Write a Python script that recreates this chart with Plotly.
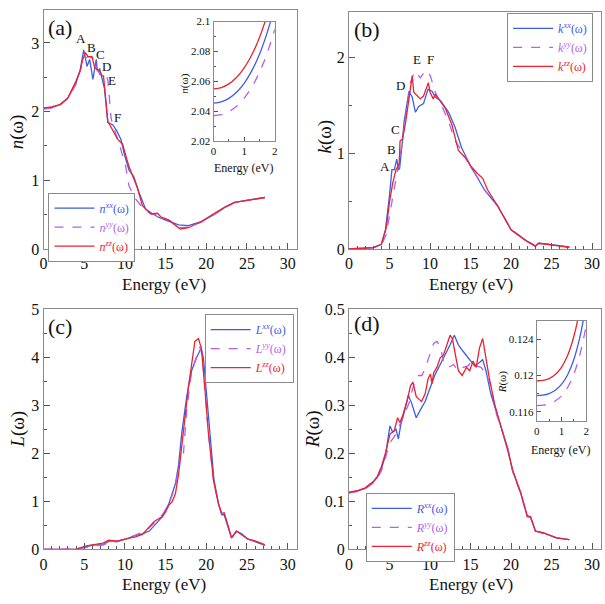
import plotly.graph_objects as go

# ---------------- data ----------------
# (a) refractive index n(w)
E_a_xx = [0,1,2,3,4,4.5,4.94,5.35,5.67,6.07,6.48,6.6,6.9,7.5,7.9,8.5,9.0,9.5,10.0,10.5,11.1,11.75,12.55,13.4,14.0,15.0,16.0,16.6,17.8,19.4,21.1,22.3,23.5,24.7,26.0,27.2]
n_xx = [2.045,2.06,2.1,2.2,2.42,2.6,2.9,2.66,2.76,2.47,2.76,2.59,2.62,2.33,1.84,1.81,1.72,1.6,1.35,1.15,1.05,0.82,0.58,0.51,0.47,0.42,0.38,0.35,0.34,0.40,0.51,0.61,0.68,0.70,0.73,0.75]
E_a_yy = [0,1,2,3,4,4.5,5.0,5.5,6.08,6.9,7.5,7.9,8.3,8.5,9.3,10.1,10.5,11.3,11.95,12.5,13.3,14.0,15.0,16.0,16.8,17.8,19.4,21.0,22.3,23.5,24.7,26.0,27.2]
n_yy = [2.037,2.05,2.09,2.19,2.4,2.58,2.78,2.8,2.78,2.54,2.56,2.47,1.91,1.81,1.53,1.2,0.92,0.73,0.63,0.56,0.51,0.5,0.44,0.38,0.31,0.32,0.39,0.51,0.6,0.68,0.70,0.73,0.75]
E_a_zz = [0,1,2,3,4,4.5,4.8,5.14,5.47,5.95,6.28,6.9,7.2,7.37,7.9,8.5,9.1,9.7,10.0,10.5,11.0,11.5,12.15,13.2,14.0,14.4,15.4,16.4,16.8,17.8,19.4,21.0,22.3,23.5,24.7,26.0,27.2]
n_zz = [2.055,2.07,2.1,2.2,2.45,2.6,2.75,2.86,2.8,2.8,2.64,2.59,2.52,2.52,1.86,1.72,1.6,1.53,1.4,1.2,1.05,0.9,0.63,0.51,0.52,0.47,0.42,0.33,0.29,0.31,0.40,0.52,0.61,0.68,0.70,0.73,0.75]

# inset (a)
E_in = [0,0.25,0.5,0.75,1.0,1.25,1.5,1.75,2.0]
n_in_xx = [2.0455,2.0463,2.0486,2.0527,2.0587,2.0672,2.0782,2.0926,2.1108]
n_in_yy = [2.0370,2.0377,2.0398,2.0434,2.0488,2.0563,2.0661,2.0789,2.0950]
n_in_zz = [2.0550,2.0558,2.0583,2.0626,2.0690,2.0778,2.0894,2.1045,2.1237]

# (b) extinction coefficient k(w)
E_b_xx = [0,2,3,4,4.5,5.0,5.3,5.6,5.9,6.1,6.25,6.6,6.8,7.2,7.4,7.8,8.2,8.6,9.2,9.75,10.25,10.65,11.3,12.3,13.1,13.9,14.7,15.1,15.9,16.7,18.35,20.0,21.6,22.0,23.0,23.4,24.0,25.0,26.0,27.2]
k_xx = [0,0.005,0.015,0.05,0.2,0.56,0.83,0.83,0.94,0.83,0.84,1.13,1.33,1.54,1.65,1.59,1.43,1.49,1.52,1.67,1.65,1.59,1.55,1.43,1.27,1.06,0.93,0.85,0.74,0.62,0.45,0.2,0.10,0.08,0.03,0.06,0.055,0.04,0.035,0.015]
E_b_yy = [0,2,3,4,4.6,5.0,5.4,6.0,6.2,6.6,7.0,7.6,8.1,8.4,8.8,9.2,9.6,10.05,10.65,11.45,12.3,13.1,13.9,14.7,15.9,16.7,18.35,20.0,21.6,22.0,23.0,23.4,24.0,25.0,26.0,27.2]
k_yy = [0,0.005,0.015,0.04,0.15,0.35,0.56,0.83,0.9,1.13,1.40,1.74,1.86,1.84,1.79,1.84,1.87,1.81,1.64,1.50,1.33,1.13,1.03,0.92,0.74,0.62,0.45,0.21,0.10,0.08,0.03,0.06,0.055,0.04,0.035,0.02]
E_b_zz = [0,2,3,4,4.6,5.0,5.4,5.8,6.2,6.3,6.6,7.0,7.4,7.8,8.0,8.4,8.8,9.2,9.8,10.0,10.4,10.65,11.05,11.9,12.7,13.5,14.3,15.1,15.85,16.5,17.1,18.35,20.0,21.6,22.0,23.0,23.4,24.0,25.0,26.0,27.2]
k_zz = [0,0.005,0.015,0.05,0.22,0.49,0.69,0.83,0.89,1.13,1.15,1.33,1.57,1.81,1.64,1.6,1.57,1.6,1.74,1.64,1.57,1.62,1.57,1.47,1.30,1.03,0.96,0.86,0.79,0.74,0.62,0.45,0.2,0.10,0.08,0.03,0.06,0.055,0.04,0.03,0.02]

# (c) energy loss L(w)
E_c_xx = [0,4,4.86,6.07,7.3,8.1,9.1,10.1,11.1,12.15,13.0,13.8,14.6,15.4,16.2,16.6,17.0,17.6,18.2,18.8,19.36,19.65,20.05,20.45,20.95,21.5,21.9,22.2,22.7,23.1,23.7,24.3,25.1,25.9,27.2]
L_xx = [0,0.005,0.04,0.09,0.10,0.17,0.17,0.21,0.28,0.32,0.38,0.52,0.68,0.95,1.36,1.76,2.44,3.18,3.72,3.99,4.19,3.99,3.18,2.4,1.45,0.95,0.72,0.72,0.45,0.24,0.38,0.33,0.22,0.17,0.08]
E_c_yy = [0,4,5,6,7.3,8.1,9.1,10.1,11.1,12.15,13.0,13.8,14.6,15.4,16.2,16.6,16.9,17.2,17.6,18.2,18.8,19.2,19.5,19.85,20.25,20.9,21.5,21.9,22.2,22.7,23.1,23.7,24.3,25.1,25.9,27.2]
L_yy = [0,0.005,0.03,0.07,0.09,0.14,0.16,0.22,0.28,0.36,0.45,0.58,0.72,0.95,1.3,1.7,2.05,2.0,2.9,3.7,4.0,4.22,4.05,3.35,2.45,1.42,0.95,0.73,0.74,0.46,0.24,0.37,0.32,0.21,0.17,0.09]
E_c_zz = [0,4,5.3,7.3,8.0,9.1,10.1,11.3,12.15,12.96,13.6,14.0,14.6,15.0,15.4,15.8,16.2,16.6,17.0,17.4,17.8,18.2,18.6,19.04,19.4,19.85,20.25,20.9,21.5,21.9,22.2,22.7,23.1,23.7,24.3,25.1,25.9,27.2]
L_zz = [0,0.005,0.07,0.13,0.19,0.17,0.22,0.26,0.31,0.45,0.58,0.62,0.68,0.78,0.92,0.99,1.15,1.56,2.17,2.77,3.38,3.85,4.33,4.39,4.19,3.31,2.44,1.42,0.95,0.75,0.76,0.48,0.24,0.38,0.31,0.21,0.18,0.1]

# (d) reflectivity R(w)
E_d_xx = [0,1,2,3,3.5,4,4.5,5.06,5.4,5.8,6.1,6.4,6.8,7.33,7.74,8.3,8.83,9.4,10.05,10.65,11.26,11.87,12.48,13.0,13.5,14.1,14.7,15.5,16.1,16.5,16.9,17.5,18.35,18.95,19.6,20.2,21.2,22.0,22.4,23.0,24.0,25.6,27.2]
R_xx = [0.118,0.121,0.127,0.14,0.15,0.168,0.195,0.257,0.244,0.25,0.23,0.26,0.284,0.321,0.304,0.274,0.291,0.308,0.338,0.365,0.385,0.405,0.426,0.446,0.426,0.412,0.399,0.382,0.389,0.395,0.372,0.324,0.277,0.244,0.21,0.163,0.116,0.068,0.068,0.038,0.034,0.024,0.02]
E_d_yy = [0,1,2,3,3.5,4,4.5,4.98,5.8,6.4,6.8,7.4,7.8,8.2,8.6,9.0,9.44,9.84,10.45,10.85,11.26,11.66,12.27,12.9,13.5,14.1,14.7,15.1,15.7,16.3,16.9,17.5,18.15,18.95,19.6,20.2,21.2,22.0,22.4,23.0,24.0,25.6,27.2]
R_yy = [0.117,0.12,0.126,0.138,0.148,0.163,0.19,0.22,0.24,0.264,0.277,0.304,0.331,0.355,0.362,0.362,0.379,0.399,0.429,0.433,0.423,0.392,0.379,0.385,0.372,0.379,0.382,0.392,0.382,0.379,0.365,0.341,0.284,0.245,0.21,0.162,0.115,0.068,0.066,0.038,0.034,0.024,0.02]
E_d_zz = [0,1,2,3,3.5,4,4.5,4.78,5.06,5.59,6.0,6.28,6.6,7.2,7.6,7.9,8.3,8.95,9.4,9.76,10.05,10.25,10.45,10.85,11.26,11.66,12.07,12.48,12.76,13.09,13.5,13.97,14.5,14.9,15.3,15.7,16.1,16.5,16.8,17.3,17.95,18.75,19.35,19.6,20.2,21.2,22.0,22.4,23.0,24.0,25.6,27.2]
R_zz = [0.119,0.122,0.128,0.141,0.152,0.172,0.2,0.223,0.24,0.247,0.274,0.264,0.277,0.311,0.341,0.348,0.318,0.308,0.324,0.355,0.365,0.345,0.368,0.379,0.399,0.405,0.426,0.446,0.439,0.405,0.372,0.362,0.379,0.372,0.392,0.379,0.419,0.439,0.405,0.358,0.304,0.257,0.22,0.205,0.165,0.118,0.07,0.068,0.038,0.034,0.024,0.02]

# inset (d)
R_in_xx = [0.1178,0.11785,0.11802,0.11838,0.11902,0.12008,0.12176,0.12427,0.12788]
R_in_yy = [0.1167,0.11674,0.11689,0.1172,0.11776,0.11869,0.12015,0.12235,0.1255]
R_in_zz = [0.1194,0.11946,0.11967,0.12011,0.1209,0.12222,0.12429,0.12739,0.13184]

x_ticks = [0, 5, 10, 15, 20, 25, 30]

# ---------------- style ----------------
W, H = 605, 604
FONT = "Liberation Serif"
BLUE = "#3d5ce8"
PURP = "#b35ff0"
RED = "#ec2230"
LW = 1.3

def px(x):
    return x / W

def py(y):
    return 1 - y / H

fig = go.Figure()

def lbl(sym, sup, col):
    return f'<span style="color:{col}"><i>{sym}</i><sup><i>{sup}</i></sup>(ω)</span>'

def add3(Ex, yx, Ey, yy, Ez, yz, sym, xa, ya, leg, showleg=True, shape="linear"):
    fig.add_trace(go.Scatter(x=Ex, y=yx, mode="lines", line=dict(color=BLUE, width=LW, shape=shape),
                             name=lbl(sym, "xx", BLUE), xaxis=xa, yaxis=ya, legend=leg, showlegend=showleg))
    fig.add_trace(go.Scatter(x=Ey, y=yy, mode="lines", line=dict(color=PURP, width=LW, dash="dash", shape=shape),
                             name=lbl(sym, "yy", PURP), xaxis=xa, yaxis=ya, legend=leg, showlegend=showleg))
    fig.add_trace(go.Scatter(x=Ez, y=yz, mode="lines", line=dict(color=RED, width=LW, shape=shape),
                             name=lbl(sym, "zz", RED), xaxis=xa, yaxis=ya, legend=leg, showlegend=showleg))

add3(E_a_xx, n_xx, E_a_yy, n_yy, E_a_zz, n_zz, "n", "x", "y", "legend")
add3(E_b_xx, k_xx, E_b_yy, k_yy, E_b_zz, k_zz, "k", "x2", "y2", "legend2")
add3(E_c_xx, L_xx, E_c_yy, L_yy, E_c_zz, L_zz, "L", "x3", "y3", "legend3")
add3(E_d_xx, R_xx, E_d_yy, R_yy, E_d_zz, R_zz, "R", "x4", "y4", "legend4")
add3(E_in, n_in_xx, E_in, n_in_yy, E_in, n_in_zz, "n", "x5", "y5", "legend", showleg=False, shape="spline")
add3(E_in, R_in_xx, E_in, R_in_yy, E_in, R_in_zz, "R", "x6", "y6", "legend", showleg=False, shape="spline")

def axis(dom, anchor, rng, dtick, minor, fs, tl=6, ml=3):
    return dict(domain=dom, anchor=anchor, range=rng, dtick=dtick, tick0=0,
                ticks="inside", ticklen=tl, tickcolor="#555", tickwidth=1,
                minor=dict(dtick=minor, ticks="inside", ticklen=ml, tickcolor="#555"),
                showline=True, linecolor="#8a8a8a", linewidth=1, mirror=True,
                showgrid=False, zeroline=False,
                tickfont=dict(family=FONT, size=fs, color="#111"))

main_x = [0, 31.1]
ax_a = [px(40), px(296)]
ax_b = [px(349), px(604)]
ay_top = [py(248), py(2)]
ay_top_b = [py(248), py(4)]
ay_bot = [py(557), py(310)]

fig.update_layout(
    width=W, height=H, margin=dict(l=0, r=0, t=0, b=0),
    paper_bgcolor="white", plot_bgcolor="white",
    font=dict(family=FONT, color="#111"),
    xaxis=axis(ax_a, "y", main_x, 5, 1, 16),
    yaxis=axis(ay_top, "x", [0, 3.48], 1, 0.5, 16),
    xaxis2=axis(ax_b, "y2", main_x, 5, 1, 16),
    yaxis2=axis(ay_top_b, "x2", [0, 2.48], 1, 0.5, 16),
    xaxis3=axis(ax_a, "y3", main_x, 5, 1, 16),
    yaxis3=axis(ay_bot, "x3", [0, 5], 1, 0.5, 16),
    xaxis4=axis(ax_b, "y4", main_x, 5, 1, 16),
    yaxis4=axis(ay_bot, "x4", [0, 0.5], 0.1, 0.05, 16),
    xaxis5=axis([px(212), px(274)], "y5", [0, 2], 1, 0.5, 11, 4, 2),
    yaxis5=dict(axis([py(137), py(14)], "x5", [2.02, 2.1], 0.02, 0.01, 11, 4, 2), tick0=2.02),
    xaxis6=axis([px(539), px(589)], "y6", [0, 2], 1, 0.5, 11, 4, 2),
    yaxis6=dict(axis([py(425), py(322)], "x6", [0.115, 0.126], 0.004, 0.002, 11, 4, 2), tick0=0.116),
    showlegend=True,
    hovermode=False,
)
for k in ["xaxis", "xaxis2", "xaxis3", "xaxis4"]:
    fig.layout[k].tickvals = x_ticks

legstyle = dict(xanchor="left", yanchor="top", bgcolor="white", bordercolor="#8a8a8a", borderwidth=1,
                font=dict(family=FONT, size=12), itemwidth=40, tracegroupgap=0)
fig.update_layout(
    legend=dict(legstyle, x=px(45), y=py(190)),
    legend2=dict(legstyle, x=px(509), y=py(5)),
    legend3=dict(legstyle, x=px(203), y=py(315)),
    legend4=dict(legstyle, x=px(366), y=py(499)),
)

def ann(x, y, text, size, angle=0):
    fig.add_annotation(x=px(x), y=py(y), xref="paper", yref="paper", text=text, showarrow=False,
                       font=dict(family=FONT, size=size, color="#111"), textangle=angle,
                       xanchor="center", yanchor="middle")

# axis titles
for xc, yc in [(162, 285), (472, 285), (162, 593), (472, 593)]:
    ann(xc, yc, "Energy (eV)", 17)
ann(14, 127, "<i>n</i>(ω)", 19, -90)
ann(325, 132, "<i>k</i>(ω)", 19, -90)
ann(14, 433, "<i>L</i>(ω)", 19, -90)
ann(312, 433, "<i>R</i>(ω)", 19, -90)
# inset titles
ann(242, 165, "Energy (eV)", 12)
ann(183, 78, "<i>n</i>(ω)", 11, -90)
ann(563, 455, "Energy (eV)", 12)
ann(504, 385, "<i>R</i>(ω)", 11, -90)
# panel labels
ann(57, 20, "(a)", 22)
ann(367, 22, "(b)", 22)
ann(57, 328, "(c)", 22)
ann(367, 325, "(d)", 22)

# peak letters
def letter(xa, ya, x, y, t):
    fig.add_annotation(x=x, y=y, xref=xa, yref=ya, text=t, showarrow=False,
                       font=dict(family=FONT, size=13, color="#111"))

for x, y, t in [(4.65, 3.06, "A"), (5.95, 2.94, "B"), (6.95, 2.83, "C"), (7.7, 2.66, "D"), (8.4, 2.45, "E"), (9.1, 1.92, "F")]:
    letter("x", "y", x, y, t)
for x, y, t in [(4.5, 0.86, "A"), (5.2, 1.04, "B"), (5.7, 1.25, "C"), (6.4, 1.71, "D"), (8.4, 1.98, "E"), (10.1, 1.98, "F")]:
    letter("x2", "y2", x, y, t)

fig.write_html("out.html", config={"displayModeBar": False, "staticPlot": True},
               post_script="document.body.style.margin='0px';")
